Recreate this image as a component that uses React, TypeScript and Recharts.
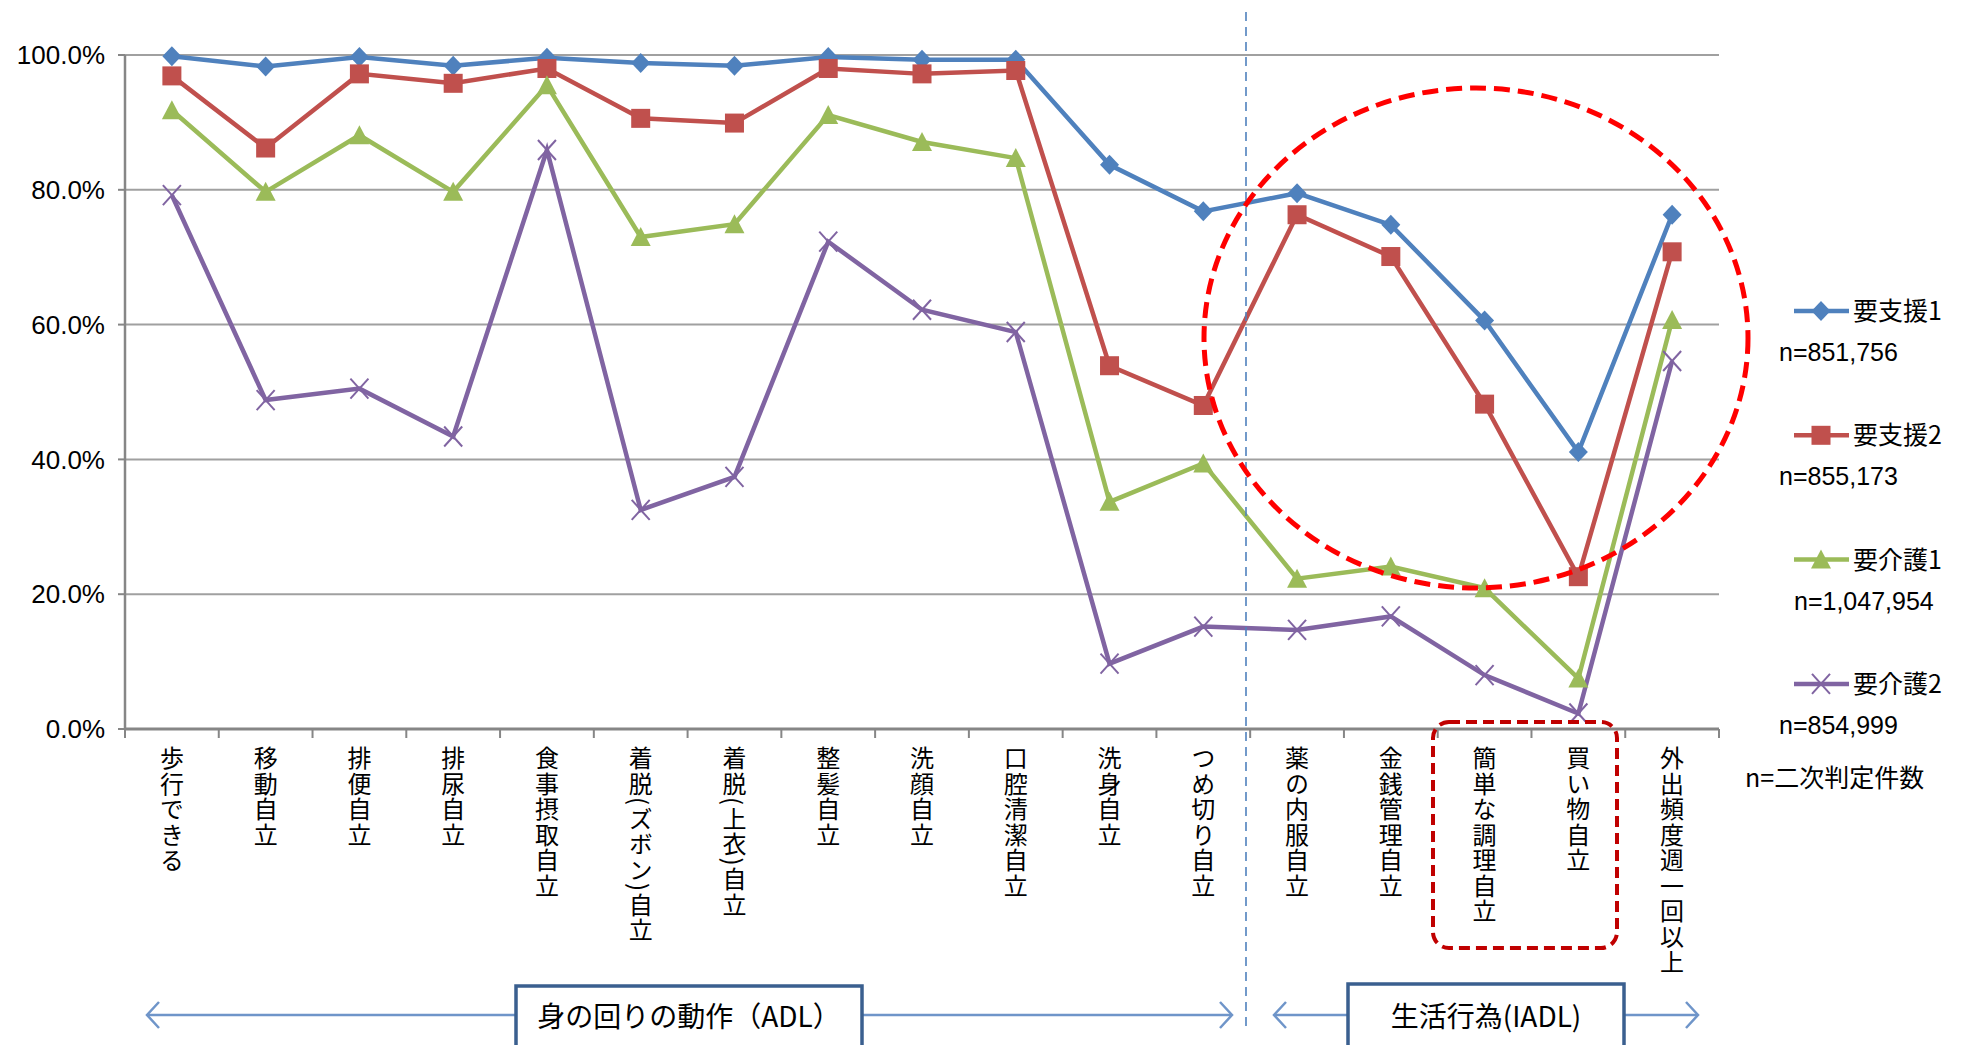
import React from "react";
import { CartesianGrid, Line, LineChart, XAxis, YAxis } from "recharts";

const categories = [
  "歩行できる",
  "移動自立",
  "排便自立",
  "排尿自立",
  "食事摂取自立",
  "着脱(ズボン)自立",
  "着脱(上衣)自立",
  "整髪自立",
  "洗顔自立",
  "口腔清潔自立",
  "洗身自立",
  "つめ切り自立",
  "薬の内服自立",
  "金銭管理自立",
  "簡単な調理自立",
  "買い物自立",
  "外出頻度週一回以上",
];

const shien1 = [99.8, 98.3, 99.7, 98.4, 99.6, 98.8, 98.4, 99.7, 99.3, 99.3, 83.7, 76.8, 79.5, 74.8, 60.6, 41.1, 76.3];
const shien2 = [96.9, 86.2, 97.2, 95.8, 98.0, 90.6, 89.9, 98.0, 97.2, 97.7, 53.9, 48.0, 76.3, 70.1, 48.2, 22.6, 70.8];
const kaigo1 = [91.8, 79.7, 88.1, 79.7, 95.5, 73.0, 74.9, 91.1, 87.1, 84.7, 33.7, 39.4, 22.3, 24.1, 20.9, 7.5, 60.7];
const kaigo2 = [79.2, 48.8, 50.5, 43.4, 85.9, 32.5, 37.4, 72.3, 62.2, 58.9, 9.7, 15.2, 14.7, 16.7, 8.0, 2.3, 54.6];

const yTicks = [0, 20, 40, 60, 80, 100];

const seriesNames = ["要支援1", "要支援2", "要介護1", "要介護2"];
const seriesCounts = ["n=851,756", "n=855,173", "n=1,047,954", "n=854,999"];
const countNote = "n=二次判定件数";
const groupLabels = ["身の回りの動作（ADL）", "生活行為(IADL)"];

const series = [
  { key: "s1", values: shien1, color: "#4F81BD", shape: "diamond" },
  { key: "s2", values: shien2, color: "#C0504D", shape: "square" },
  { key: "k1", values: kaigo1, color: "#9BBB59", shape: "triangle" },
  { key: "k2", values: kaigo2, color: "#8064A2", shape: "x" },
];

const data = categories.map((name, i) => {
  const row: Record<string, string | number> = { name };
  series.forEach((s) => (row[s.key] = s.values[i]));
  return row;
});

const W = 1964;
const H = 1045;
const PLOT_LEFT = 125;
const PLOT_RIGHT = 1719;
const PLOT_TOP = 55;
const PLOT_BOTTOM = 729;
const BAND = (PLOT_RIGHT - PLOT_LEFT) / categories.length;

const CJK = "'Noto Sans CJK JP', 'Noto Sans', sans-serif";
const LATIN = "'Liberation Sans', Arial, sans-serif";

function Marker({ shape, cx, cy, color }: { shape: string; cx: number; cy: number; color: string }) {
  if (cx == null || cy == null) return null;
  if (shape === "diamond") {
    return <polygon points={`${cx},${cy - 10} ${cx + 9.5},${cy} ${cx},${cy + 10} ${cx - 9.5},${cy}`} fill={color} />;
  }
  if (shape === "square") {
    return <rect x={cx - 9.5} y={cy - 9.5} width={19} height={19} fill={color} />;
  }
  if (shape === "triangle") {
    return <polygon points={`${cx},${cy - 10} ${cx + 10},${cy + 9} ${cx - 10},${cy + 9}`} fill={color} />;
  }
  return (
    <g stroke={color} strokeWidth={2}>
      <line x1={cx - 9} y1={cy - 10} x2={cx + 9} y2={cy + 10} />
      <line x1={cx + 9} y1={cy - 10} x2={cx - 9} y2={cy + 10} />
    </g>
  );
}

function CategoryTick(props: any) {
  const { x, payload, index } = props;
  const left = x - BAND / 2;
  return (
    <g>
      <line x1={left} x2={left} y1={PLOT_BOTTOM} y2={PLOT_BOTTOM + 9} stroke="#868686" strokeWidth={2} />
      {index === categories.length - 1 && (
        <line x1={x + BAND / 2} x2={x + BAND / 2} y1={PLOT_BOTTOM} y2={PLOT_BOTTOM + 9} stroke="#868686" strokeWidth={2} />
      )}
      <text
        x={x}
        y={746}
        fontSize={24}
        fontFamily={CJK}
        fill="#000"
        style={{ writingMode: "vertical-rl", letterSpacing: 1.5 }}
      >
        {payload.value}
      </text>
    </g>
  );
}

function Chevron({ x, y, dir, color }: { x: number; y: number; dir: 1 | -1; color: string }) {
  return (
    <polyline
      points={`${x - dir * 12},${y - 13} ${x},${y} ${x - dir * 12},${y + 13}`}
      fill="none"
      stroke={color}
      strokeWidth={2.5}
    />
  );
}

function Overlay() {
  const arrow = "#6F95C9";
  const box = "#3A5F8F";
  const legendTop = 311;
  const legendGap = 124.3;
  const countX = [1779, 1779, 1794, 1779];
  return (
    <svg width={W} height={H} style={{ position: "absolute", left: 0, top: 0, pointerEvents: "none" }}>
      {/* ADL / IADL divider */}
      <line x1={1246} x2={1246} y1={12} y2={1027} stroke="#4F81BD" strokeWidth={1.6} strokeDasharray="9 6" />

      {/* highlight ellipse */}
      <ellipse cx={1476} cy={338} rx={272} ry={250} fill="none" stroke="#FF0000" strokeWidth={5} strokeDasharray="16 8" />

      {/* highlight box around two categories */}
      <rect x={1433} y={722} width={184} height={226} rx={16} fill="none" stroke="#C00000" strokeWidth={4} strokeDasharray="11 6" />

      {/* group arrows */}
      <line x1={147} x2={1232} y1={1015} y2={1015} stroke={arrow} strokeWidth={2.5} />
      <Chevron x={147} y={1015} dir={-1} color={arrow} />
      <Chevron x={1232} y={1015} dir={1} color={arrow} />
      <line x1={1274} x2={1698} y1={1015} y2={1015} stroke={arrow} strokeWidth={2.5} />
      <Chevron x={1274} y={1015} dir={-1} color={arrow} />
      <Chevron x={1698} y={1015} dir={1} color={arrow} />

      <rect x={516} y={986} width={346} height={80} fill="#fff" stroke={box} strokeWidth={3.5} />
      <text x={689} y={1027} textAnchor="middle" fontSize={28} fontFamily={CJK} fill="#000">
        {groupLabels[0]}
      </text>
      <rect x={1348} y={984} width={276} height={80} fill="#fff" stroke={box} strokeWidth={3.5} />
      <text x={1486} y={1027} textAnchor="middle" fontSize={28} fontFamily={CJK} fill="#000">
        {groupLabels[1]}
      </text>

      {/* legend */}
      {series.map((s, i) => {
        const y = legendTop + i * legendGap;
        return (
          <g key={s.key}>
            <line x1={1794} x2={1849} y1={y} y2={y} stroke={s.color} strokeWidth={4.5} />
            <Marker shape={s.shape} cx={1821} cy={y} color={s.color} />
            <text x={1853} y={y + 9} fontSize={25} fontFamily={CJK} fill="#000">
              {seriesNames[i]}
            </text>
            <text x={countX[i]} y={y + 50} fontSize={25} fontFamily={LATIN} fill="#000">
              {seriesCounts[i]}
            </text>
          </g>
        );
      })}
      <text x={1745} y={787} fontSize={25} fontFamily={CJK} fill="#000">
        {countNote}
      </text>
    </svg>
  );
}

export default function App() {
  return (
    <div style={{ position: "fixed", left: 0, top: 0, width: W, height: H, background: "#fff" }}>
      <LineChart
        width={W}
        height={H}
        data={data}
        margin={{ top: PLOT_TOP, right: W - PLOT_RIGHT, bottom: 0, left: 0 }}
      >
        <CartesianGrid vertical={false} stroke="#A0A0A0" strokeWidth={2} />
        <XAxis
          dataKey="name"
          interval={0}
          padding={{ left: BAND / 2, right: BAND / 2 }}
          tickLine={false}
          axisLine={{ stroke: "#868686", strokeWidth: 3 }}
          tick={<CategoryTick />}
          height={H - PLOT_BOTTOM}
        />
        <YAxis
          width={PLOT_LEFT}
          domain={[0, 100]}
          ticks={yTicks}
          tickFormatter={(v: number) => `${v.toFixed(1)}%`}
          tick={{ fontSize: 26, fill: "#000", fontFamily: LATIN }}
          tickSize={7}
          tickMargin={13}
          tickLine={{ stroke: "#868686", strokeWidth: 2 }}
          axisLine={{ stroke: "#868686", strokeWidth: 2.5 }}
        />
        {series.map((s) => (
          <Line
            key={s.key}
            dataKey={s.key}
            stroke={s.color}
            strokeWidth={4.5}
            isAnimationActive={false}
            dot={(p: any) => <Marker key={`${s.key}-${p.index}`} shape={s.shape} cx={p.cx} cy={p.cy} color={s.color} />}
            activeDot={false}
          />
        ))}
      </LineChart>
      <Overlay />
    </div>
  );
}
